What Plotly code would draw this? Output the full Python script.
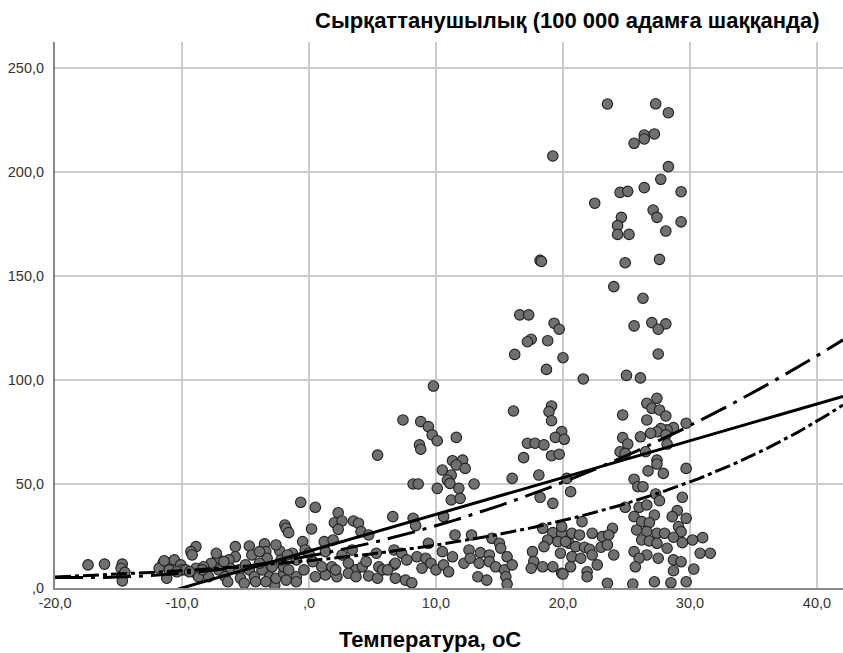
import numpy as np
import plotly.graph_objects as go

# Observations: air temperature (°C) and incidence per 100 000 population
temp_c = [
    -17.4, -16.1, -14.7, -14.8, -14.7, -14.7, -14.5, -11.5, -11.0, -10.6, -11.2, -10.1, -11.8, -11.4,
    -11.0, -10.0, -10.4, -9.7, -8.9,
    -0.65, 0.5, -1.9, -1.8, -1.6, 0.2, 2.3, 2.0, 2.6, 2.3, 3.5, 3.9, 4.1, 4.7, 6.6, -0.5, 1.2, 1.9,
    -8.9, -9.3, -9.2, -5.8, -4.7, -3.5, -3.4, -2.3, -4.5, -5.8, -7.2, -6.3, -7.7, -8.9, -8.7, -7.9,
    -7.1, -6.2, -5.5, -6.6, -6.4, -5.4, -4.7, -4.3, -3.7, -3.1, -2.7, -2.6, -2.0, -2.0, -1.0, -1.0,
    -0.4, 0.3, 0.5, 1.3, 1.0, 1.8, 2.2, 3.1, 3.7, 4.2, 4.7, 5.4, 5.5, 5.8, 6.8, 7.6, 6.7, 2.6, -1.3,
    -0.3, 1.3, -7.3, -2.2, -3.3, -3.9, -8.3, -5.0, -2.9, -1.6, 0.0, 2.1, 3.1, 3.7, 4.5, 6.2, 5.3,
    3.4, -2.6, -1.7, -3.9, -6.7, -8.4, -9.4, -5.1, -4.2, -3.4, -1.8, -1.0, 5.4,
    9.8, 16.1, 7.4, 8.8, 9.4, 9.7, 10.1, 11.6, 8.7, 8.8, 11.3, 12.1, 11.6, 12.3, 10.5, 11.2, 10.9,
    8.2, 8.6, 10.1, 11.1, 11.8, 13.0, 16.0, 16.9, 11.2, 11.9, 8.2, 8.4, 10.6, 11.5, 12.8, 14.4,
    15.0, 9.4, 6.7, 7.3, 7.7, 8.5, 9.2, 10.5, 11.3, 12.6, 13.5, 14.2, 15.1, 15.6, 6.8, 8.9, 9.6,
    10.0, 10.6, 11.0, 12.2, 12.7, 13.4, 14.2, 14.7, 15.4, 16.0, 8.1, 13.3, 14.0, 15.5, 15.6,
    19.2, 18.2, 18.3, 16.6, 17.3, 19.3, 19.7, 17.5, 17.2, 18.8, 16.2, 20.0, 18.7, 19.1, 18.9, 19.1,
    19.9, 19.4, 20.1, 17.2, 17.8, 18.5, 19.1, 19.7, 18.1, 20.6, 18.2, 19.2, 18.4, 19.2, 19.9, 18.8,
    19.6, 20.5, 18.5, 17.6, 17.7, 18.4, 17.5, 19.2, 19.9, 20.6, 20.3,
    23.5, 27.3, 28.3, 26.4, 27.2, 26.4, 25.6, 28.3, 27.7, 24.5, 25.1, 26.4, 29.3, 22.5, 27.1, 27.4,
    24.6, 29.3, 24.3, 24.3, 25.2, 28.1, 24.9, 27.6, 24.0, 26.3, 25.6, 27.0, 28.1, 27.5, 27.5, 21.6,
    25.0, 26.1, 27.4, 26.6, 27.0, 27.6, 28.1, 24.7, 26.6, 29.7, 28.7, 28.2, 27.7, 27.4, 26.9, 26.1,
    28.1, 24.7, 25.1, 28.2, 24.5, 24.9, 26.5, 27.4, 27.4, 29.7, 26.7, 27.9, 25.6, 25.9, 26.3, 27.3,
    27.6, 29.4, 24.9, 26.0, 26.6, 27.2, 25.6, 29.0, 28.6, 29.7, 26.2, 26.8, 29.1, 25.8, 26.6, 27.4,
    28.0, 29.3, 28.7, 26.2, 26.8, 27.4, 28.2, 29.4, 30.2, 31.0, 25.6, 26.6, 27.5, 28.7, 29.3, 30.8,
    31.6, 26.0, 25.7, 28.7, 30.3, 25.5, 27.2, 28.5, 29.7, 23.5,
    21.5, 19.9, 20.7, 21.3, 22.3, 23.1, 23.9, 23.6, 20.2, 21.0, 21.7, 22.1, 23.0, 23.5, 19.8, 20.7,
    21.4, 22.3, 24.0, 22.7, 21.9, 20.0, 21.9,
]
incidence = [
    11.1, 11.5, 11.5, 9.5, 5.8, 3.4, 7.5, 11.9, 11.9, 13.5, 4.7, 11.1, 9.5, 13.1,
    8.7, 8.7, 7.8, 8.7, 7.1,
    41.2, 38.8, 30.3, 28.7, 26.6, 28.4, 36.2, 31.4, 32.2, 28.2, 32.2, 31.1, 27.1, 25.5, 34.3, 22.3, 22.3, 23.1,
    19.9, 17.5, 15.9, 19.9, 20.2, 21.2, 17.5, 17.8, 15.9, 15.0, 14.3, 13.5, 11.9, 9.5, 5.4, 5.4,
    8.7, 9.5, 8.7, 5.4, 3.0, 4.7, 8.7, 5.4, 8.7, 5.4, 1.4, 4.7, 7.1, 10.2, 13.5, 5.4,
    8.7, 12.7, 5.4, 6.3, 10.2, 10.2, 5.4, 11.9, 8.7, 10.2, 5.8, 4.7, 10.2, 8.7, 4.7, 3.8, 11.1, 15.9, 16.7,
    18.3, 17.5, 16.7, 13.5, 14.3, 11.9, 10.2, 11.1, 10.2, 8.7, 16.7, 8.7, 7.1, 5.4, 12.7, 8.7, 16.7,
    18.3, 20.7, 15.9, 17.5, 12.7, 8.7, 7.8, 2.3, 3.0, 3.0, 3.8, 3.0, 63.9,
    97.1, 85.1, 80.8, 80.0, 77.6, 73.6, 70.8, 72.4, 68.8, 66.7, 61.2, 61.5, 59.1, 57.5, 56.7, 54.3, 51.9,
    50.0, 50.0, 47.9, 50.3, 47.9, 50.0, 52.7, 62.7, 42.3, 43.1, 33.5, 30.0, 34.3, 25.5, 25.5, 23.9,
    21.5, 21.5, 18.3, 16.7, 13.5, 15.0, 14.3, 17.5, 15.0, 18.3, 17.0, 15.9, 19.1, 15.0, 11.9, 9.5, 11.9,
    8.7, 11.1, 7.8, 11.9, 14.3, 11.9, 12.7, 10.2, 8.7, 11.1, 2.5, 5.4, 3.8, 5.4, 1.9,
    207.7, 157.5, 157.0, 131.3, 131.3, 127.3, 124.4, 119.6, 118.4, 118.9, 112.3, 110.7, 105.1, 87.5, 84.8, 80.4,
    75.2, 72.4, 71.5, 69.6, 69.6, 68.8, 63.6, 64.3, 54.3, 46.3, 43.6, 40.7, 28.7, 26.6, 26.3, 23.1,
    22.3, 21.5, 19.9, 17.5, 12.7, 10.2, 9.5, 10.2, 7.1, 10.2, 52.7,
    232.7, 232.8, 228.5, 217.8, 218.3, 215.9, 213.8, 202.6, 196.5, 190.2, 190.7, 192.5, 190.5, 185.0, 181.7, 178.2,
    178.2, 176.0, 174.2, 170.0, 170.0, 171.6, 156.4, 158.0, 144.9, 139.3, 126.0, 127.6, 127.0, 124.4, 112.5, 100.5,
    102.2, 101.0, 91.2, 88.8, 86.4, 85.6, 82.7, 83.2, 80.8, 79.2, 77.1, 76.0, 76.6, 75.1, 74.4, 72.7,
    73.6, 72.3, 69.2, 69.2, 65.5, 64.7, 65.5, 61.5, 59.6, 57.5, 56.3, 55.1, 52.3, 48.7, 48.7, 45.2,
    42.0, 43.6, 38.8, 38.8, 39.9, 35.1, 34.3, 37.2, 34.3, 33.5, 31.9, 31.4, 29.5, 27.9, 27.1, 26.3,
    26.3, 27.1, 24.4, 23.1, 22.6, 21.5, 19.1, 21.8, 23.1, 24.2, 17.5, 15.9, 14.3, 13.5, 12.6, 16.7,
    16.7, 14.3, 10.2, 8.3, 9.1, 1.9, 3.0, 2.5, 3.0, 2.3,
    31.9, 29.5, 26.3, 25.5, 26.3, 24.7, 28.7, 25.5, 22.3, 19.9, 19.6, 18.6, 19.6, 20.7, 16.7, 15.0,
    14.3, 15.9, 15.9, 11.1, 7.8, 6.7, 5.4,
]

# Fitted models
linear_coef = (17.7, 1.77)               # a + b*t
quadratic_coef = (15.3, 1.144, 0.0316)   # a + b*t + c*t^2
exponential_coef = (13.1, 0.0453)        # a * exp(b*t)

x_ticks = [-20, -10, 0, 10, 20, 30, 40]
x_tick_text = ["-20,0", "-10,0", ",0", "10,0", "20,0", "30,0", "40,0"]
y_ticks = [0, 50, 100, 150, 200, 250]
y_tick_text = [",0", "50,0", "100,0", "150,0", "200,0", "250,0"]

x_range = [-20.0, 42.05]
y_range = [0, 262.5]

t = np.linspace(x_range[0], x_range[1], 400)
fit_linear = linear_coef[0] + linear_coef[1] * t
fit_quadratic = quadratic_coef[0] + quadratic_coef[1] * t + quadratic_coef[2] * t ** 2
fit_exponential = exponential_coef[0] * np.exp(exponential_coef[1] * t)

fig = go.Figure()
fig.add_trace(go.Scatter(
    x=temp_c, y=incidence, mode="markers",
    marker=dict(size=10.5, color="#707070", line=dict(color="#202020", width=1.1)),
    showlegend=False, hoverinfo="skip",
))
fig.add_trace(go.Scatter(
    x=t, y=fit_linear, mode="lines",
    line=dict(color="black", width=3), showlegend=False,
))
fig.add_trace(go.Scatter(
    x=t, y=fit_quadratic, mode="lines",
    line=dict(color="black", width=3, dash="28px,8px,4px,8px"), showlegend=False,
))
fig.add_trace(go.Scatter(
    x=t, y=fit_exponential, mode="lines",
    line=dict(color="black", width=3, dash="16px,4px,4px,4px"), showlegend=False,
))

font_family = "Liberation Sans, Arial, sans-serif"

fig.update_layout(
    width=843, height=653,
    margin=dict(l=55, r=0, t=42, b=65),
    paper_bgcolor="white", plot_bgcolor="white",
    font=dict(family=font_family, size=14, color="#333333"),
    xaxis=dict(
        range=x_range, tickvals=x_ticks, ticktext=x_tick_text,
        showgrid=True, gridcolor="#cccccc", gridwidth=1.5,
        showline=True, linecolor="#8a8a8a", linewidth=2,
        zeroline=False, ticks="outside", ticklen=1, tickcolor="white",
        tickfont=dict(size=14.5, color="#333333"),
    ),
    yaxis=dict(
        range=y_range, tickvals=y_ticks, ticktext=y_tick_text,
        showgrid=True, gridcolor="#cccccc", gridwidth=1.5,
        showline=True, linecolor="#8a8a8a", linewidth=2,
        zeroline=False, ticks="outside", ticklen=6, tickcolor="white",
        tickfont=dict(size=14.5, color="#333333"),
    ),
    annotations=[
        dict(text="<b>Сырқаттанушылық (100 000 адамға шаққанда)</b>",
             xref="paper", yref="paper", x=0.973, y=1.040,
             xanchor="right", yanchor="middle", showarrow=False,
             font=dict(family=font_family, size=22, color="black")),
        dict(text="<b>Температура, оС</b>",
             xref="paper", yref="paper", x=0.476, y=-0.095,
             xanchor="center", yanchor="middle", showarrow=False,
             font=dict(family=font_family, size=22, color="black")),
    ],
)

fig.write_html("out.html")
